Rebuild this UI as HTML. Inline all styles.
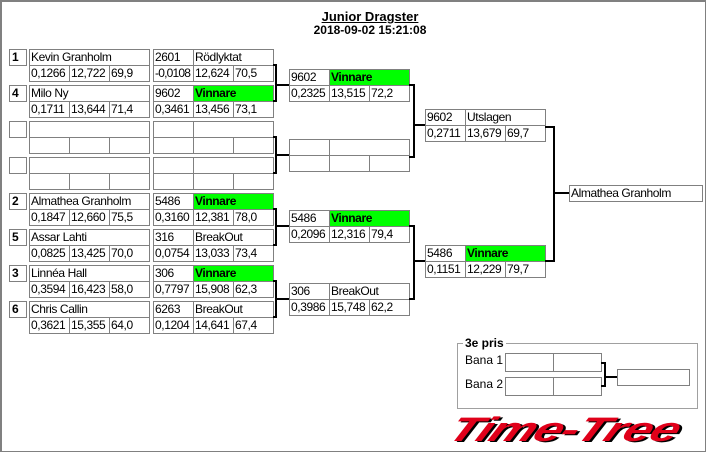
<!DOCTYPE html>
<html><head><meta charset="utf-8"><style>
body{margin:0;width:706px;height:452px;background:#fff;position:relative;overflow:hidden;font-family:"Liberation Sans",Arial,sans-serif}
#frame{position:absolute;left:0;top:0;width:706px;height:452px;box-sizing:border-box;border:1px solid #808080;border-top:2px solid #808080;border-left:2px solid #808080}
.c{position:absolute;border:1px solid #808080;height:17px;box-sizing:border-box;font-size:12px;letter-spacing:-0.4px;line-height:15px;padding-left:1px;white-space:nowrap;overflow:hidden;color:#000;background:#fff}
.w{width:41px}.n{width:81px}.nm{width:121px}
.s{width:18px;font-weight:bold;padding-left:2px}
.g{background:#00ff00;font-weight:bold}
.l{position:absolute;background:#000}
.t{position:absolute;font-weight:bold;font-size:13px;text-align:center;width:200px;left:270px}
</style></head><body>
<div id="frame"></div>
<div class="t" style="top:9px;text-decoration:underline">Junior Dragster</div>
<div class="t" style="top:23px;font-size:12px">2018-09-02 15:21:08</div>

<!-- seeds -->
<div class="c s" style="left:9px;top:49px">1</div>
<div class="c s" style="left:9px;top:85px">4</div>
<div class="c s" style="left:9px;top:121px"></div>
<div class="c s" style="left:9px;top:157px"></div>
<div class="c s" style="left:9px;top:193px">2</div>
<div class="c s" style="left:9px;top:229px">5</div>
<div class="c s" style="left:9px;top:265px">3</div>
<div class="c s" style="left:9px;top:301px">6</div>

<!-- names -->
<div class="c nm" style="left:29px;top:49px">Kevin Granholm</div>
<div class="c w" style="left:29px;top:65px">0,1266</div><div class="c w" style="left:69px;top:65px">12,722</div><div class="c w" style="left:109px;top:65px">69,9</div>
<div class="c nm" style="left:29px;top:85px">Milo Ny</div>
<div class="c w" style="left:29px;top:101px">0,1711</div><div class="c w" style="left:69px;top:101px">13,644</div><div class="c w" style="left:109px;top:101px">71,4</div>
<div class="c nm" style="left:29px;top:121px"></div>
<div class="c w" style="left:29px;top:137px"></div><div class="c w" style="left:69px;top:137px"></div><div class="c w" style="left:109px;top:137px"></div>
<div class="c nm" style="left:29px;top:157px"></div>
<div class="c w" style="left:29px;top:173px"></div><div class="c w" style="left:69px;top:173px"></div><div class="c w" style="left:109px;top:173px"></div>
<div class="c nm" style="left:29px;top:193px">Almathea Granholm</div>
<div class="c w" style="left:29px;top:209px">0,1847</div><div class="c w" style="left:69px;top:209px">12,660</div><div class="c w" style="left:109px;top:209px">75,5</div>
<div class="c nm" style="left:29px;top:229px">Assar Lahti</div>
<div class="c w" style="left:29px;top:245px">0,0825</div><div class="c w" style="left:69px;top:245px">13,425</div><div class="c w" style="left:109px;top:245px">70,0</div>
<div class="c nm" style="left:29px;top:265px">Linnéa Hall</div>
<div class="c w" style="left:29px;top:281px">0,3594</div><div class="c w" style="left:69px;top:281px">16,423</div><div class="c w" style="left:109px;top:281px">58,0</div>
<div class="c nm" style="left:29px;top:301px">Chris Callin</div>
<div class="c w" style="left:29px;top:317px">0,3621</div><div class="c w" style="left:69px;top:317px">15,355</div><div class="c w" style="left:109px;top:317px">64,0</div>

<!-- round 1 results -->
<div class="c w" style="left:153px;top:49px">2601</div><div class="c n" style="left:193px;top:49px">Rödlyktat</div>
<div class="c w" style="left:153px;top:65px;letter-spacing:-0.8px">-0,0108</div><div class="c w" style="left:193px;top:65px">12,624</div><div class="c w" style="left:233px;top:65px">70,5</div>
<div class="c w" style="left:153px;top:85px">9602</div><div class="c n g" style="left:193px;top:85px">Vinnare</div>
<div class="c w" style="left:153px;top:101px">0,3461</div><div class="c w" style="left:193px;top:101px">13,456</div><div class="c w" style="left:233px;top:101px">73,1</div>
<div class="c w" style="left:153px;top:121px"></div><div class="c n" style="left:193px;top:121px"></div>
<div class="c w" style="left:153px;top:137px"></div><div class="c w" style="left:193px;top:137px"></div><div class="c w" style="left:233px;top:137px"></div>
<div class="c w" style="left:153px;top:157px"></div><div class="c n" style="left:193px;top:157px"></div>
<div class="c w" style="left:153px;top:173px"></div><div class="c w" style="left:193px;top:173px"></div><div class="c w" style="left:233px;top:173px"></div>
<div class="c w" style="left:153px;top:193px">5486</div><div class="c n g" style="left:193px;top:193px">Vinnare</div>
<div class="c w" style="left:153px;top:209px">0,3160</div><div class="c w" style="left:193px;top:209px">12,381</div><div class="c w" style="left:233px;top:209px">78,0</div>
<div class="c w" style="left:153px;top:229px">316</div><div class="c n" style="left:193px;top:229px">BreakOut</div>
<div class="c w" style="left:153px;top:245px">0,0754</div><div class="c w" style="left:193px;top:245px">13,033</div><div class="c w" style="left:233px;top:245px">73,4</div>
<div class="c w" style="left:153px;top:265px">306</div><div class="c n g" style="left:193px;top:265px">Vinnare</div>
<div class="c w" style="left:153px;top:281px">0,7797</div><div class="c w" style="left:193px;top:281px">15,908</div><div class="c w" style="left:233px;top:281px">62,3</div>
<div class="c w" style="left:153px;top:301px">6263</div><div class="c n" style="left:193px;top:301px">BreakOut</div>
<div class="c w" style="left:153px;top:317px">0,1204</div><div class="c w" style="left:193px;top:317px">14,641</div><div class="c w" style="left:233px;top:317px">67,4</div>

<!-- round 2 -->
<div class="c w" style="left:289px;top:69px">9602</div><div class="c n g" style="left:329px;top:69px">Vinnare</div>
<div class="c w" style="left:289px;top:85px">0,2325</div><div class="c w" style="left:329px;top:85px">13,515</div><div class="c w" style="left:369px;top:85px">72,2</div>
<div class="c w" style="left:289px;top:139px"></div><div class="c n" style="left:329px;top:139px"></div>
<div class="c w" style="left:289px;top:155px"></div><div class="c w" style="left:329px;top:155px"></div><div class="c w" style="left:369px;top:155px"></div>
<div class="c w" style="left:289px;top:210px">5486</div><div class="c n g" style="left:329px;top:210px">Vinnare</div>
<div class="c w" style="left:289px;top:226px">0,2096</div><div class="c w" style="left:329px;top:226px">12,316</div><div class="c w" style="left:369px;top:226px">79,4</div>
<div class="c w" style="left:289px;top:283px">306</div><div class="c n" style="left:329px;top:283px">BreakOut</div>
<div class="c w" style="left:289px;top:299px">0,3986</div><div class="c w" style="left:329px;top:299px">15,748</div><div class="c w" style="left:369px;top:299px">62,2</div>

<!-- round 3 -->
<div class="c w" style="left:425px;top:109px">9602</div><div class="c n" style="left:465px;top:109px">Utslagen</div>
<div class="c w" style="left:425px;top:125px">0,2711</div><div class="c w" style="left:465px;top:125px">13,679</div><div class="c w" style="left:505px;top:125px">69,7</div>
<div class="c w" style="left:425px;top:245px">5486</div><div class="c n g" style="left:465px;top:245px">Vinnare</div>
<div class="c w" style="left:425px;top:261px">0,1151</div><div class="c w" style="left:465px;top:261px">12,229</div><div class="c w" style="left:505px;top:261px">79,7</div>

<div class="c" style="left:569px;top:185px;width:134px">Almathea Granholm</div>

<!-- connectors round1 -->
<div class="l" style="left:273px;top:64px;width:4px;height:2px"></div><div class="l" style="left:273px;top:100px;width:4px;height:2px"></div><div class="l" style="left:275px;top:64px;width:2px;height:38px"></div><div class="l" style="left:275px;top:84px;width:14px;height:2px"></div>
<div class="l" style="left:273px;top:136px;width:4px;height:2px"></div><div class="l" style="left:273px;top:172px;width:4px;height:2px"></div><div class="l" style="left:275px;top:136px;width:2px;height:38px"></div><div class="l" style="left:275px;top:154px;width:14px;height:2px"></div>
<div class="l" style="left:273px;top:208px;width:4px;height:2px"></div><div class="l" style="left:273px;top:244px;width:4px;height:2px"></div><div class="l" style="left:275px;top:208px;width:2px;height:38px"></div><div class="l" style="left:275px;top:225px;width:14px;height:2px"></div>
<div class="l" style="left:273px;top:280px;width:4px;height:2px"></div><div class="l" style="left:273px;top:316px;width:4px;height:2px"></div><div class="l" style="left:275px;top:280px;width:2px;height:38px"></div><div class="l" style="left:275px;top:298px;width:14px;height:2px"></div>
<!-- round2 -->
<div class="l" style="left:409px;top:84px;width:6px;height:2px"></div><div class="l" style="left:409px;top:156px;width:6px;height:2px"></div><div class="l" style="left:413px;top:84px;width:2px;height:74px"></div><div class="l" style="left:413px;top:124px;width:12px;height:2px"></div>
<div class="l" style="left:409px;top:225px;width:6px;height:2px"></div><div class="l" style="left:409px;top:298px;width:6px;height:2px"></div><div class="l" style="left:413px;top:225px;width:2px;height:75px"></div><div class="l" style="left:413px;top:260px;width:12px;height:2px"></div>
<!-- round3 -->
<div class="l" style="left:545px;top:126px;width:10px;height:2px"></div><div class="l" style="left:545px;top:260px;width:10px;height:2px"></div><div class="l" style="left:553px;top:126px;width:2px;height:136px"></div><div class="l" style="left:553px;top:192px;width:16px;height:2px"></div>

<!-- 3e pris -->
<div style="position:absolute;left:457px;top:343px;width:241px;height:66px;box-sizing:border-box;border:1px solid #a0a0a0"></div>
<div style="position:absolute;left:463px;top:336px;background:#fff;padding:0 2px;font-size:12px;font-weight:bold">3e pris</div>
<div style="position:absolute;left:465px;top:353px;font-size:12px">Bana 1</div>
<div style="position:absolute;left:465px;top:377px;font-size:12px">Bana 2</div>
<div class="c" style="left:505px;top:353px;width:49px;height:19px"></div><div class="c" style="left:553px;top:353px;width:49px;height:19px"></div>
<div class="c" style="left:505px;top:377px;width:49px;height:19px"></div><div class="c" style="left:553px;top:377px;width:49px;height:19px"></div>
<div class="c" style="left:617px;top:369px;width:73px;height:17px"></div>
<div class="l" style="left:601px;top:362px;width:5px;height:2px"></div><div class="l" style="left:601px;top:385px;width:5px;height:2px"></div><div class="l" style="left:604px;top:362px;width:2px;height:25px"></div><div class="l" style="left:604px;top:376px;width:13px;height:2px"></div>

<!-- logo -->
<div style="position:absolute;left:460px;top:410px;font-size:34px;line-height:40px;font-weight:bold;font-style:italic;color:#e0001a;text-shadow:2px 1px 0 #000;transform-origin:0 0;transform:scaleX(1.5) skewX(-18deg);letter-spacing:-1px">Time-Tree</div>
</body></html>
